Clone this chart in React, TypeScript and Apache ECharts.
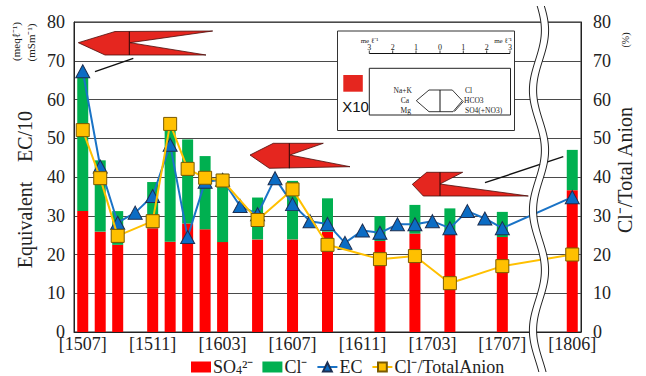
import React, { useEffect, useRef } from 'react';
import * as echarts from 'echarts';

// Sampling months; the three blank slots are the axis break before [1806]
const categories = [
  '[1507]', '[1508]', '[1509]', '[1510]', '[1511]', '[1512]',
  '[1601]', '[1602]', '[1603]', '[1604]', '[1605]', '[1606]',
  '[1607]', '[1608]', '[1609]', '[1610]', '[1611]', '[1612]',
  '[1701]', '[1702]', '[1703]', '[1704]', '[1705]', '[1706]',
  '[1707]', '', ' ', '  ', '[1806]',
];

// Equivalent concentrations (meq/l)
const so4 = [31.2, 25.9, 22.5, null, 26.8, 23.3, 28.0, 26.5, 23.2, null, 23.9, null,
  23.9, null, 25.9, null, null, 23.5, null, 25.4, null, 25.2, null, null,
  24.5, null, null, null, 36.6];
const cl = [34.8, 18.4, 8.7, null, 11.9, 29.7, 21.7, 18.9, 17.6, null, 10.8, null,
  15.1, null, 8.6, null, null, 6.4, null, 7.4, null, 6.7, null, null,
  6.5, null, null, null, 10.4];
// Electrical conductivity / 10 (mS/m)
const ec = [67.3, 42.7, 28.2, 30.8, 35.1, 48.3, 24.5, 38.8, 39.3, 32.5, 30.4, 39.7,
  33.0, 28.6, 27.9, 23.0, 26.2, 25.6, 27.8, 27.8, 28.6, 26.8, 31.2, 29.3,
  26.8, null, null, null, 34.8];
// Chloride share of total anions (%)
const ratio = [52.1, 39.7, 24.8, null, 28.6, 53.7, 42.1, 39.8, 39.1, null, 28.9, null,
  36.8, null, 22.5, null, null, 18.8, null, 19.6, null, 12.6, null, null,
  17.0, null, null, null, 20.0];

const yTicks = { min: 0, max: 80, interval: 10 };
const legendNames = ['SO₄²⁻', 'Cl⁻', 'EC', 'Cl⁻/TotalAnion'];

const SERIF = '"Liberation Serif", "Times New Roman", serif';
const SANS = '"Liberation Sans", Arial, sans-serif';
const STIFF_RED = '#e5261f';

function txt(x: number, y: number, text: string, size: number, opts: any = {}) {
  const align = opts.align || 'center';
  return {
    type: 'text',
    x,
    y,
    rotation: opts.rotation || 0,
    z: 120,
    style: {
      text,
      font: `${size}px ${opts.family || SERIF}`,
      fill: opts.fill || '#222',
      textAlign: align,
      align,
      textVerticalAlign: 'middle',
      verticalAlign: 'middle',
    },
  };
}

function line(x1: number, y1: number, x2: number, y2: number, w = 1, color = '#111') {
  return {
    type: 'line',
    z: 120,
    shape: { x1, y1, x2, y2 },
    style: { stroke: color, lineWidth: w },
  };
}

// Stiff-type hexagon diagram with its centre line
function stiff(points: number[][], cx: number, top: number, bottom: number) {
  return [
    {
      type: 'polygon',
      z: 115,
      shape: { points },
      style: { fill: STIFF_RED, stroke: '#4a0d0a', lineWidth: 0.8 },
    },
    line(cx, top, cx, bottom, 1, '#2a0606'),
  ];
}

// Wavy double line marking the break in the time axis
function breakMark() {
  const pts: number[][] = [];
  for (let y = 6; y <= 372; y += 3) {
    pts.push([539 + 6 * Math.sin(((y - 6) / 120) * Math.PI * 2 + 0.3), y]);
  }
  const shift = (d: number) => pts.map(([x, y]) => [x + d, y]);
  return [
    { type: 'polyline', z: 125, shape: { points: pts }, style: { stroke: '#fff', lineWidth: 7, fill: null } },
    { type: 'polyline', z: 126, shape: { points: shift(-3.6) }, style: { stroke: '#222', lineWidth: 1, fill: null } },
    { type: 'polyline', z: 126, shape: { points: shift(3.6) }, style: { stroke: '#222', lineWidth: 1, fill: null } },
  ];
}

function keyBox() {
  const els: any[] = [];
  els.push({
    type: 'rect', z: 110,
    shape: { x: 337.5, y: 31, width: 177, height: 99.5 },
    style: { fill: '#fff', stroke: '#333', lineWidth: 1 },
  });
  // scale
  els.push(txt(369.5, 40.5, 'me ℓ⁻¹', 7));
  els.push(txt(503, 40.5, 'me ℓ⁻¹', 7));
  const scaleX = [369.3, 392.7, 416, 440, 463.3, 486.7, 510];
  const scaleLab = ['3', '2', '1', '0', '1', '2', '3'];
  els.push(line(369.3, 53.5, 510, 53.5, 1));
  scaleX.forEach((x, i) => {
    els.push(line(x, 50.5, x, 53.5, 0.8));
    els.push(txt(x, 47.5, scaleLab[i], 8));
  });
  // multiplier swatch
  els.push({ type: 'rect', z: 120, shape: { x: 343.3, y: 75, width: 19.5, height: 16.7 }, style: { fill: STIFF_RED } });
  els.push(txt(355.5, 106, 'X10', 15, { family: SANS, fill: '#111' }));
  // inner diagram
  els.push({
    type: 'rect', z: 115,
    shape: { x: 369.3, y: 68.3, width: 141.2, height: 46.7 },
    style: { fill: '#fff', stroke: '#222', lineWidth: 1 },
  });
  els.push({
    type: 'polygon', z: 120,
    shape: { points: [[429, 90], [452.3, 90], [462.3, 100.7], [453, 111.7], [429, 111.7], [416.3, 100.7]] },
    style: { fill: '#fff', stroke: '#222', lineWidth: 0.9 },
  });
  els.push(line(454.5, 111.5, 463.5, 101.3, 0.8));
  els.push(line(440, 90, 440, 111.7, 1));
  els.push(txt(412, 90, 'Na+K', 7.5, { align: 'right' }));
  els.push(txt(409, 100.7, 'Ca', 7.5, { align: 'right' }));
  els.push(txt(411, 110.7, 'Mg', 7.5, { align: 'right' }));
  els.push(txt(465, 90, 'Cl', 7.5, { align: 'left' }));
  els.push(txt(464, 100.7, 'HCO3', 7.5, { align: 'left' }));
  els.push(txt(465, 110.7, 'SO4(+NO3)', 7.5, { align: 'left' }));
  return els;
}

function buildOption() {
  const axisText = { fontFamily: SERIF, fontSize: 18, color: '#222' };
  return {
    animation: false,
    backgroundColor: '#fff',
    grid: {
      left: 74, right: 65, top: 22, bottom: 44,
      show: true, borderColor: '#222', borderWidth: 1,
      containLabel: false, outerBoundsMode: 'none',
    },
    legend: {
      data: [
        { name: legendNames[0], icon: 'rect' },
        { name: legendNames[1], icon: 'rect' },
        { name: legendNames[2] },
        { name: legendNames[3] },
      ],
      left: 186, top: 353,
      itemWidth: 20, itemHeight: 11, itemGap: 9,
      formatter: (name: string) => (name === legendNames[0] ? '{n|SO}{s|4}{n|²⁻}' : name),
      textStyle: {
        fontFamily: SERIF, fontSize: 18, color: '#222', lineHeight: 18, padding: [0, 0, 0, -3],
        rich: {
          n: { fontFamily: SERIF, fontSize: 18, color: '#222', lineHeight: 18 },
          s: { fontFamily: SERIF, fontSize: 12, color: '#222', lineHeight: 12, verticalAlign: 'bottom' },
        },
      },
    },
    xAxis: {
      type: 'category',
      data: categories,
      boundaryGap: true,
      axisLine: { show: true, lineStyle: { color: '#222', width: 1 } },
      axisTick: { show: false },
      axisLabel: { interval: 3, fontFamily: SERIF, fontSize: 18, color: '#222', margin: 3 },
      splitLine: { show: false },
    },
    yAxis: [
      {
        type: 'value', ...yTicks,
        axisLine: { show: true, lineStyle: { color: '#222' } },
        axisTick: { show: false },
        axisLabel: { ...axisText, margin: 9 },
        splitLine: { show: true, lineStyle: { color: '#4a4a4a', width: 1 } },
      },
      {
        type: 'value', ...yTicks, position: 'right',
        axisLine: { show: true, lineStyle: { color: '#222' } },
        axisTick: { show: false },
        axisLabel: { ...axisText, margin: 12, align: 'left' },
        splitLine: { show: false },
      },
    ],
    series: [
      {
        name: legendNames[0], type: 'bar', stack: 'anion', data: so4, barWidth: 11,
        itemStyle: { color: '#ff0000' }, z: 2,
      },
      {
        name: legendNames[1], type: 'bar', stack: 'anion', data: cl, barWidth: 11,
        itemStyle: { color: '#00b050' }, z: 2,
      },
      {
        name: legendNames[2], type: 'line', data: ec, connectNulls: true, showAllSymbol: true,
        symbol: 'triangle', symbolSize: [14, 13],
        lineStyle: { color: '#1a73c6', width: 2 },
        itemStyle: { color: '#0b6cc4', borderColor: '#1d2f52', borderWidth: 1 },
        z: 3,
      },
      {
        name: legendNames[3], type: 'line', yAxisIndex: 1, data: ratio, connectNulls: true, showAllSymbol: true,
        symbol: 'rect', symbolSize: 13,
        lineStyle: { color: '#ffc000', width: 2 },
        itemStyle: { color: '#ffc000', borderColor: '#7a5a00', borderWidth: 1 },
        z: 4,
      },
    ],
    graphic: {
      elements: [
        // axis titles
        txt(25, 225, 'Equivalent', 20, { rotation: Math.PI / 2 }),
        txt(25, 136.5, 'EC/10', 20, { rotation: Math.PI / 2 }),
        txt(15.5, 41.5, '(meqℓ⁻¹)', 11, { rotation: Math.PI / 2 }),
        txt(30.5, 42.5, '(mSm⁻¹)', 11, { rotation: Math.PI / 2 }),
        txt(625, 170, 'Cl⁻/Total Anion', 20, { rotation: Math.PI / 2 }),
        txt(625, 40, '(%)', 10, { rotation: Math.PI / 2 }),
        ...keyBox(),
        ...stiff([[212.7, 31], [130, 42.7], [206, 55], [105, 55], [78.3, 42.7], [115, 31.5]], 129.3, 31.5, 55),
        line(95, 71.7, 133.3, 58.3, 1.4),
        ...stiff([[323.3, 143.3], [290, 155], [350, 166.7], [269.3, 168.3], [250, 155], [273.3, 143.3]], 289.3, 143.3, 168.3),
        ...breakMark(),
        ...stiff([[462.7, 172.3], [440, 184], [528.3, 196], [423.3, 196], [412.3, 184.3], [426.7, 172.3]], 440, 172.3, 196),
        line(485, 182.7, 563.3, 156.7, 1.4),
      ],
    },
  };
}

export default function App() {
  const ref = useRef<HTMLDivElement>(null);
  useEffect(() => {
    document.body.style.margin = '0';
    if (!ref.current) return;
    const chart = echarts.init(ref.current, undefined, { renderer: 'svg' });
    chart.setOption(buildOption() as any);
    return () => chart.dispose();
  }, []);
  return <div ref={ref} style={{ width: 646, height: 376 }} />;
}
